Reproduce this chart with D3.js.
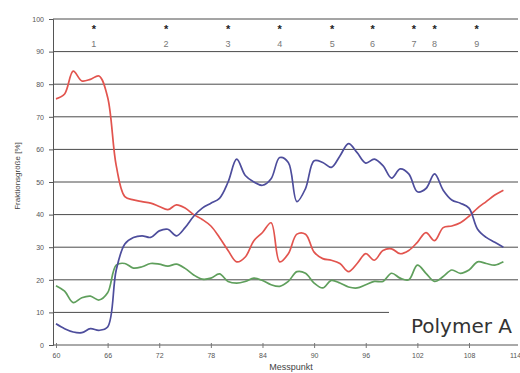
<!DOCTYPE html>
<html>
<head>
<meta charset="utf-8">
<script src="https://cdn.jsdelivr.net/npm/d3@7"></script>
<style>
  body { margin: 0; background: #fff; }
  svg { display: block; }
</style>
</head>
<body>
<figure id="chart" style="margin:0"></figure>
<script>
// Messpunkt positions (x) shared by all three series
const messpunkt = d3.range(60, 113);

const redSeries = [75.5, 77, 84, 81, 81.5, 82.5, 76, 55, 45.5, 44.5,
  44, 43.5, 42.5, 41.5, 43, 42, 40, 38.5, 36.5, 33,
  29, 25.5, 27, 32, 34.5, 37.5, 25.5, 28, 34, 34,
  28.5, 26.5, 26, 25, 22.5, 25, 28, 26, 29, 29.5,
  28, 29, 31.5, 34.5, 32, 36, 36.5, 37.5, 39.5, 42,
  44, 46, 47.5];

const blueSeries = [6.5, 5, 4, 3.8, 5, 4.5, 5.5, 23, 31, 33,
  33.5, 33, 35, 35.5, 33.5, 36, 39.5, 42, 43.5, 45,
  50, 57, 52, 50, 49, 51, 57.5, 56, 44, 48,
  56.5, 56, 54.5, 58, 61.8, 59, 55.8, 57, 55, 51.2,
  54, 52.5, 47, 48, 52.5, 47.5, 44.5, 43.5, 42, 35.5,
  33, 31.5, 30];

const greenSeries = [18.2, 16.5, 13, 14.5, 15, 13.8, 16, 24.5, 25, 23.6,
  24, 25, 24.8, 24.2, 24.8, 23.5, 21.5, 20.2, 20.5, 21.8,
  19.5, 19, 19.5, 20.5, 19.8, 18.5, 18, 19.5, 22.5, 22,
  19, 17.5, 19.8, 19, 17.8, 17.5, 18.5, 19.5, 19.5, 22,
  20.5, 20, 24.5, 22, 19.5, 21, 23, 22, 23, 25.5,
  25, 24.5, 25.5];

const xTicks = [60, 66, 72, 78, 84, 90, 96, 102, 108, 114];
const yTicks = [0, 10, 20, 30, 40, 50, 60, 70, 80, 90, 100];

// numbered markers along the top
const markerPos = [64.4, 72.8, 80, 86, 92.1, 96.8, 101.6, 104, 108.9];
const markerLabels = ["1", "2", "3", "4", "5", "6", "7", "8", "9"];

const width = 520;
const height = 373;
const plotLeft = 53, plotRight = 518, plotTop = 19, plotBottom = 345;

const svg = d3.select("figure#chart")
  .append("svg")
  .attr("width", width)
  .attr("height", height)
  .style("font-family", "'Liberation Sans', Arial, sans-serif");

const x = d3.scaleLinear()
  .domain([60 - 3 / 8.604, 60 + (plotRight - 56) / 8.604])
  .range([plotLeft, plotRight]);

const y = d3.scaleLinear()
  .domain([0, 100])
  .range([plotBottom, plotTop]);

// horizontal grid lines
svg.append("g")
  .selectAll("line")
  .data(yTicks.filter(d => d > 0))
  .join("line")
  .attr("x1", plotLeft)
  .attr("x2", plotRight)
  .attr("y1", d => y(d))
  .attr("y2", d => y(d))
  .attr("stroke", "#4a4a4a")
  .attr("stroke-width", 1);

// y axis
const yAxis = svg.append("g")
  .attr("transform", `translate(${plotLeft},0)`)
  .call(d3.axisLeft(y).tickValues(yTicks).tickSize(4).tickPadding(5));
yAxis.select(".domain").attr("stroke", "#555");
yAxis.selectAll(".tick line").attr("stroke", "#555");
yAxis.selectAll("text").attr("fill", "#555").style("font-size", "7px");

// x axis
const xAxis = svg.append("g")
  .attr("transform", `translate(0,${plotBottom})`)
  .call(d3.axisBottom(x).tickValues(xTicks).tickSize(3).tickPadding(5));
xAxis.select(".domain").attr("stroke", "#555").attr("d", `M${plotLeft},0H${plotRight}`);
xAxis.selectAll(".tick line").attr("stroke", "#777").attr("y1", -2);
xAxis.selectAll("text").attr("fill", "#555").style("font-size", "7px");
// last label sits at the right edge
xAxis.selectAll("text").filter(d => d === 114).attr("text-anchor", "end").attr("dx", 0);

// series lines
const line = d3.line()
  .x((d, i) => x(messpunkt[i]))
  .y(d => y(d))
  .curve(d3.curveCatmullRom.alpha(0.5));

const series = [
  { values: redSeries, color: "#e2544e" },
  { values: greenSeries, color: "#5f9f5c" },
  { values: blueSeries, color: "#4d4d9c" }
];

svg.append("g")
  .selectAll("path")
  .data(series)
  .join("path")
  .attr("fill", "none")
  .attr("stroke", d => d.color)
  .attr("stroke-width", 1.7)
  .attr("d", d => line(d.values));

// top markers
const markers = svg.append("g");
markers.selectAll("text.star")
  .data(markerPos)
  .join("text")
  .attr("class", "star")
  .attr("x", d => x(d))
  .attr("y", 33)
  .attr("text-anchor", "middle")
  .attr("fill", "#222")
  .style("font-size", "11px")
  .style("font-weight", "bold")
  .text("*");
markers.selectAll("text.num")
  .data(markerPos)
  .join("text")
  .attr("class", "num")
  .attr("x", d => x(d))
  .attr("y", 47)
  .attr("text-anchor", "middle")
  .attr("fill", "#777")
  .style("font-size", "9px")
  .text((d, i) => markerLabels[i]);

// label box
svg.append("rect")
  .attr("x", 389)
  .attr("y", 298)
  .attr("width", plotRight - 389 + 2)
  .attr("height", 36)
  .attr("fill", "#fff");

svg.append("text")
  .attr("x", 512)
  .attr("y", 333)
  .attr("text-anchor", "end")
  .attr("fill", "#333")
  .style("font-family", "'DejaVu Sans', sans-serif")
  .style("font-size", "20px")
  .text("Polymer A");

// axis titles
svg.append("text")
  .attr("text-anchor", "middle")
  .attr("transform", "rotate(-90)")
  .attr("x", -176)
  .attr("y", 20)
  .attr("fill", "#444")
  .style("font-size", "8px")
  .text("Fraktionsgröße [%]");

svg.append("text")
  .attr("text-anchor", "middle")
  .attr("x", 291)
  .attr("y", 370)
  .attr("fill", "#444")
  .style("font-size", "9px")
  .text("Messpunkt");
</script>
</body>
</html>
